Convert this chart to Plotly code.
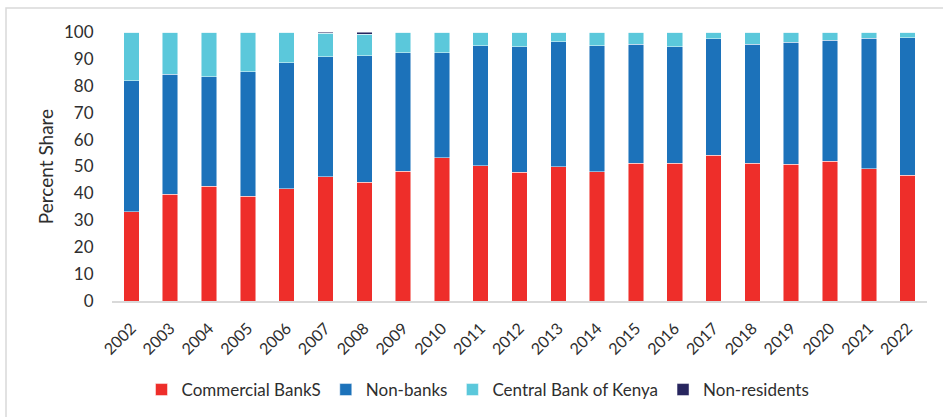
import plotly.graph_objects as go

years = [str(y) for y in range(2002, 2023)]

commercial_banks = [33.1, 39.7, 42.6, 38.9, 41.8, 46.1, 44.1, 48.3, 53.2, 50.2, 47.8,
                    49.9, 48.0, 51.3, 51.2, 54.1, 51.2, 50.8, 51.9, 49.1, 46.8]
non_banks = [48.8, 44.6, 40.8, 46.4, 46.7, 44.7, 47.1, 44.0, 39.1, 44.7, 46.7,
             46.4, 46.9, 44.2, 43.3, 43.4, 44.3, 45.3, 45.0, 48.5, 51.1]
central_bank = [18.1, 15.7, 16.6, 14.7, 11.5, 8.8, 8.0, 7.7, 7.7, 5.1, 5.5,
                3.7, 5.1, 4.5, 5.5, 2.5, 4.5, 3.9, 3.1, 2.4, 2.1]
non_residents = [0, 0, 0, 0, 0, 0.4, 0.8, 0, 0, 0, 0,
                 0, 0, 0, 0, 0, 0, 0, 0, 0, 0]

series = [
    ("Commercial BankS", commercial_banks, "#EE2E2A"),
    ("Non-banks", non_banks, "#1C72BA"),
    ("Central Bank of Kenya", central_bank, "#5BC8DB"),
    ("Non-residents", non_residents, "#27255E"),
]

FONT = "Lato"
TEXT = "#2E2E2E"

fig = go.Figure()
for name, vals, color in series:
    fig.add_trace(go.Bar(
        x=years, y=vals, name=name,
        marker=dict(color=color, line=dict(color="rgba(255,255,255,0.6)", width=0.8)),
    ))

W, H = 943, 417
L, R, T, B = 112, 16, 32, 116
pw, ph = W - L - R, H - T - B

def px_x(v):
    return (v - L) / pw

def px_y(v):
    return (H - B - v) / ph

fig.update_layout(
    width=W, height=H,
    margin=dict(l=L, r=R, t=T, b=B, autoexpand=False),
    barmode="stack",
    bargap=0.6,
    plot_bgcolor="white",
    paper_bgcolor="white",
    font=dict(family=FONT, size=17, color=TEXT),
    showlegend=True,
    legend=dict(
        orientation="h",
        x=px_x(478), xanchor="center",
        y=px_y(390), yanchor="middle",
        font=dict(family=FONT, size=17, color=TEXT),
        traceorder="normal",
        itemwidth=30,
    ),
    xaxis=dict(
        type="category",
        tickangle=-45,
        showline=True, linecolor="#D9D9D9", linewidth=1.5,
        showgrid=False,
        ticks="outside", ticklen=10, tickcolor="rgba(0,0,0,0)",
        tickfont=dict(family=FONT, size=16, color=TEXT),
    ),
    yaxis=dict(
        range=[0, 100],
        tick0=0, dtick=10,
        showgrid=False, zeroline=False, showline=False,
        ticks="outside", ticklen=14, tickcolor="rgba(0,0,0,0)",
        tickfont=dict(family=FONT, size=17, color=TEXT),
        title=dict(text="Percent Share", font=dict(family=FONT, size=19, color=TEXT), standoff=5),
    ),
    shapes=[dict(
        type="rect", xref="paper", yref="paper",
        x0=px_x(6), x1=px_x(960), y0=px_y(440), y1=px_y(8),
        line=dict(color="#D9D9D9", width=1.5), fillcolor="rgba(0,0,0,0)",
        layer="below",
    )],
)

fig.write_html("out.html")
